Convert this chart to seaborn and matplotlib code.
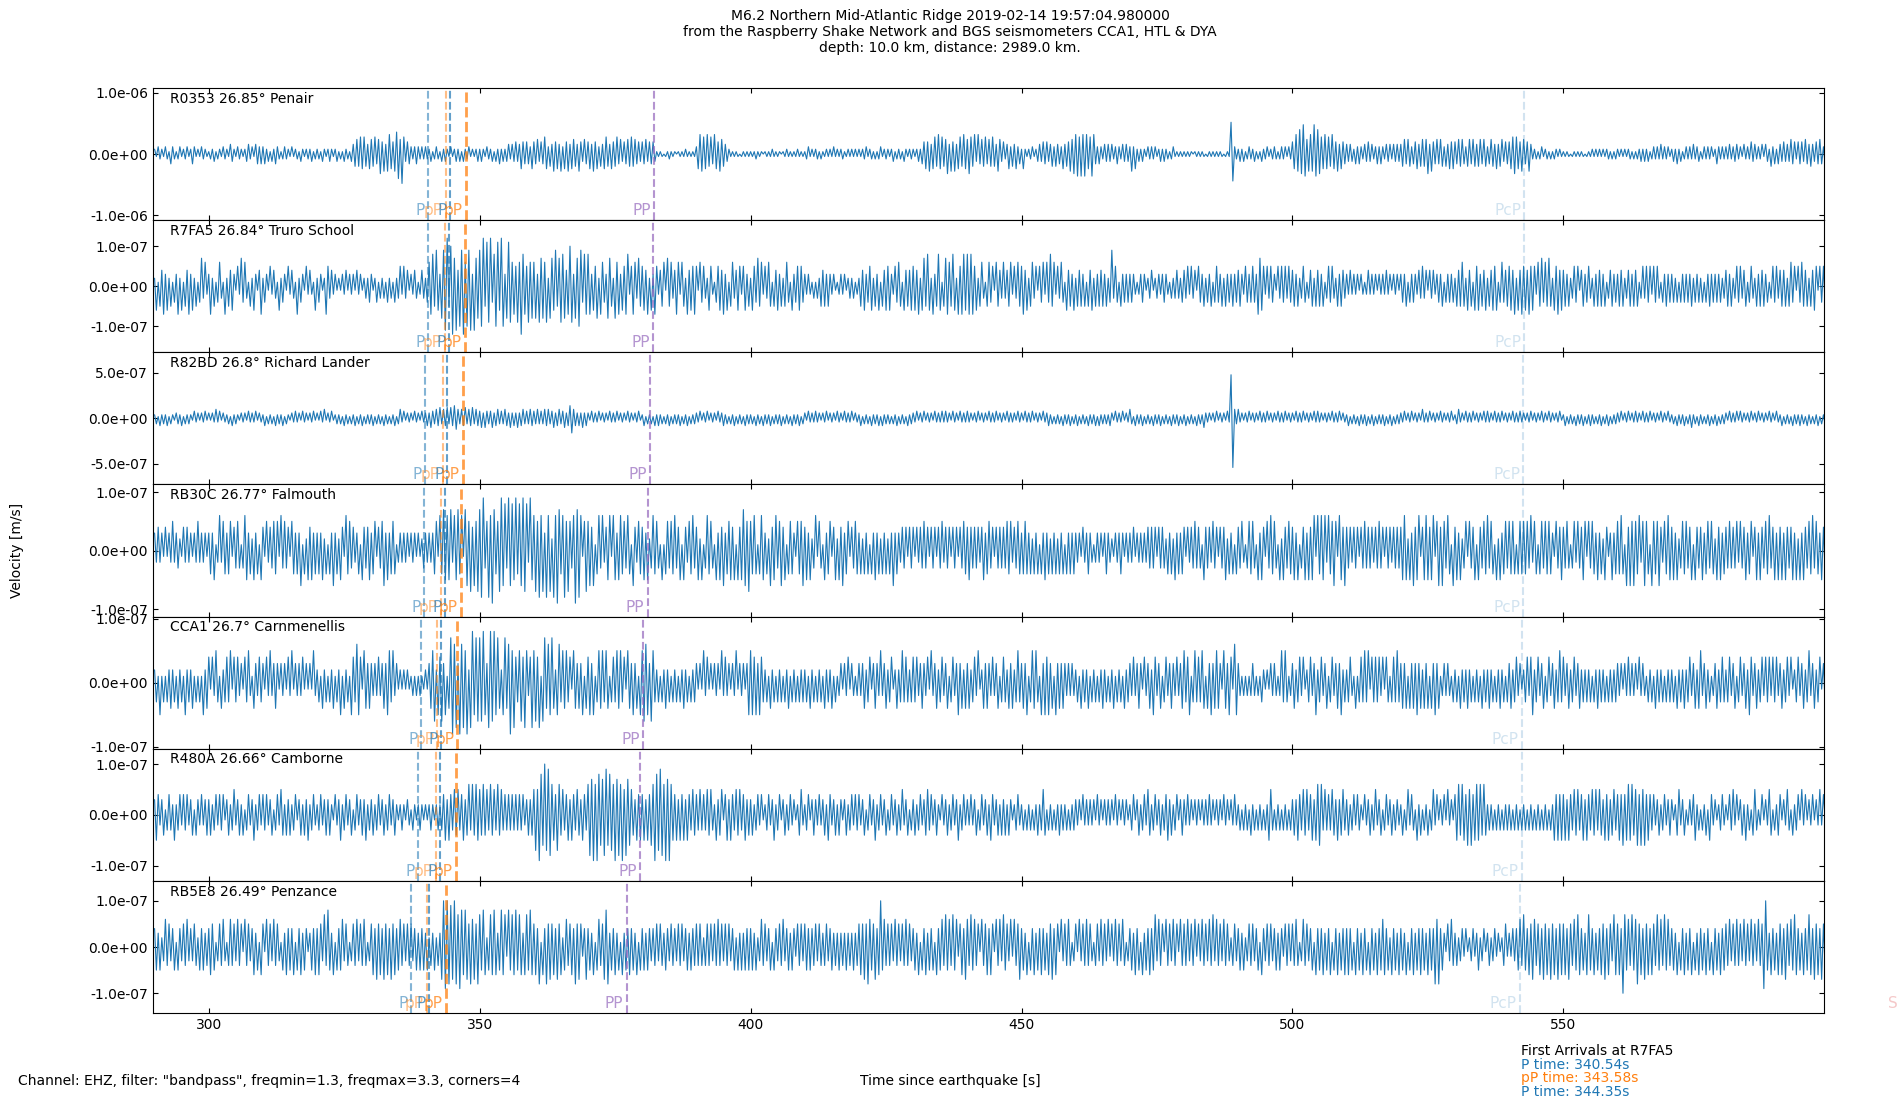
import numpy as np
import pandas as pd
import matplotlib
matplotlib.use("Agg")
import matplotlib.pyplot as plt
import matplotlib.transforms as mtransforms
from matplotlib.ticker import FormatStrFormatter
import seaborn as sns

# --- 1. Values ---

stations = ["R0353", "R7FA5", "R82BD", "RB30C", "CCA1", "R480A", "RB5E8"]
distances = [26.85, 26.84, 26.8, 26.77, 26.7, 26.66, 26.49]
places = ["Penair", "Truro School", "Richard Lander", "Falmouth",
          "Carnmenellis", "Camborne", "Penzance"]

# symmetric y limit and y tick step per panel [m/s]
y_limits = [1.08e-6, 1.65e-7, 7.27e-7, 1.13e-7, 1.03e-7, 1.30e-7, 1.43e-7]
y_steps = [1e-6, 1e-7, 5e-7, 1e-7, 1e-7, 1e-7, 1e-7]
# size of one amplitude step used in the trace strings below [m/s]
amp_units = [0.04e-6, 0.1e-7, 0.02e-6, 0.1e-7, 0.1e-7, 0.1e-7, 0.1e-7]

# Traces: one string per 10 s window (first window starts at 290 s),
# one base-36 character per half cycle peak, sign flips every peak.
trace_R0353 = [
    "213221321432123122312431213221", "122312213221432132212342314434",
    "342313243212322131221321222312", "221321232123121322134565767546",
    "657468574786579a6c735432343232", "322312321323213123231322312123",
    "232132231324232342435346545436", "546354763547564736574665475364",
    "564756354675465574635465756453", "546354531111011211101111211111",
    "368776857486576543211111011111", "111211101111211110112111112111",
    "123121221211212131212211212121", "212231221212312221231222132122",
    "212324565746758675684757467586", "687583846574657547635246354634",
    "262122312343545345354436455768", "897989867984343243434234324343",
    "373623232132323123232212311111", "11111011111101111111110111db32",
    "232312322312132231223212323132", "5687a8c96787c9a876867586574654",
    "434324343243534234343243424343", "456465345645656847546465354656",
    "546564356465456465346546456354", "567876576457422212312212122121",
    "111101111111011121212121221212", "212121221212232323123232423231",
    "232423123232423312323231243232", "324233423142325342324143253424",
    "435343645254536445435464354545",
]
trace_R7FA5 = [
    "261547362514372615473625147362", "372514631725463152746315263147",
    "243152431624315243172431524216", "243127534231213241323142312324",
    "312413231423142352534132431243", "24678596389bc5ac7b4a9c6a9b3b78",
    "9ac5b9c48ab6ca38b967596c875968", "68397869287695798847a9387a9487",
    "873658276438752867365782576375", "564726375245617563476265274657",
    "516453265214564736156346525635", "265475625365154635256416345654",
    "323213132545353231123231232312", "254634562536154656325465164546",
    "564726758627358615776586275786", "878756256315645165436345625365",
    "574625635154626485625364164536", "254535154625354535249354153434",
    "343212343123412332343213234324", "435253415435243514543525343534",
    "453254345437765253543153545354", "453523541345254535135453253543",
    "324232313212423231323242313231", "343514343243534143423435143434",
    "254565264516563546254656146445", "564726475647565265746575265746",
    "453523545145345325354535134534", "354523453545135354525453143534",
    "342414343435243424143534343423", "453523545345145325354534135453",
    "454525645154654525465154564525",
]
trace_R82BD = [
    "231423241321332413232142313241", "313252413223142321323142324132",
    "241323142324132132423142313241", "314251324123231423132413241323",
    "241323142313241352413231423142", "343543546354636476535463546354",
    "453543453453435435343534534354", "435343545345345345347854343534",
    "314232413231423241323142313241", "241323142423132413232413241323",
    "324132413231423423132413231423", "231423142324132324132314232413",
    "314232423132413231423142324132", "241323142324142323132413231423",
    "324132413231423242423142314232", "423132413231423241323142323142",
    "314232413231423423132314232413", "241323142324142323243142324132",
    "531423241323142324132314232413", "24132314232532313241323142or53",
    "523132413231423241323142324132", "314232413231424231323142324132",
    "241323142324132413232413241323", "324132413231523241323142313241",
    "235231423241323142423142324132", "314232423132413231423142313241",
    "241323142324132423132413241323", "324132413242314232413231423142",
    "231423241325231423132413241323", "314232414231324132413231423142",
    "241323142324231423132413241323",
]
trace_RB30C = [
    "324231413252332142423132523231", "343512625434514353136534253415",
    "415243545163534154343614254534", "343524143634254164534234154345",
    "345143563534541232323132313123", "323234516475657265746176574657",
    "789358697457968396859486978295", "675867386728697468575369786157",
    "564614636245616535645364164254", "453523645315145354634515425463",
    "452513645315354634554515457657", "546414653426456356451454315456",
    "453523615315345145254634514354", "342434143534243424363432434143",
    "414243534143414352434143414354", "454343424534534143434354524354",
    "345434243414353424342434143434", "323142343212323134322132343132",
    "324132323243434143432434253434", "414243534315434253414345243414",
    "435213545315354153645315254354", "453513453545616465626456516546",
    "434243414353434243534143424343", "456525364561456545615646536416",
    "453523515345154354635415253453", "545414545453625414535454315345",
    "435313525345515354353425413534", "546416465654625654165456425465",
    "453523545345154345345354254534", "435343525345345145354354634535",
    "453543453525354354635435453543",
]
trace_CCA1 = [
    "231513132423142315232413131524", "414253142343514342314352143243",
    "314252343132314251323241313152", "231423132413251423154365415434",
    "323242343553523121212112121211", "213456254635147867386758278576",
    "768537868574257468574356475247", "564716746574256354534154343514",
    "453513545354134354534154353415", "566536532313242313231324231323",
    "313152413132315242313251323135", "554535432314231323132413231323",
    "231423132314232413123132413212", "323423413432523423412423534323",
    "434234324152342342341342353424", "342342512434324234134324342353",
    "343513545315354534153434323232", "231423241323132423132413231423",
    "324234314234254234134234324234", "534513534354143534543154354165",
    "321212123212132121323212535312", "342342412342352342341342343523",
    "234214134353514343424143134353", "343414343534243414353412323213",
    "231423242313231423242313242313", "342342312342452342341342342353",
    "423423423423232313242323132323", "323132423231423213231423231323",
    "231423242342342452342312342343", "234234134234254234234243424342",
    "342342412342342352342341342342",
]
trace_R480A = [
    "354234134325234243423414324234", "342342434134235234241342352342",
    "434234134254243423413424352342", "234234342142352342341342343523",
    "342342342342342123213213212321", "212321232345354354534534636465",
    "546453645364534343434343423434", "575986a79865476453453543543543",
    "687969867896876978695876543545", "453546698798697965453545354354",
    "435343545325345145354354534534", "342342412342352341342342312452",
    "234134324234254234243134234243", "423413423523423413423423523413",
    "342342345342342142342342352342", "324234134234254234243424312342",
    "231323132423541323132423231323", "323142323231423132323142313231",
    "234134234254234234234534234134", "324231323132324231323142313242",
    "231323142313231325531323132313", "343543545345356663534354353453",
    "342342432142342352341342342332", "241352431524132413524132415231",
    "456465465645656464232313231323", "231323132313231323132313254545",
    "453543545345354354535435453453", "454645656456465645434234234234",
    "312452341232452313241542312342", "214352413425231453124132541324",
    "413253142341524132413252413241",
]
trace_RB5E8 = [
    "453523645345154354634354254534", "465513546314645364516453463516",
    "516453645315364546154635413546", "465374853615456354135463546413",
    "564756475647564564535453453545", "3524352437a9a897a8798687586758",
    "758625768635867285768576367586", "564816485756475625645648575247",
    "453615645788354635163546453615", "453543445354354354435453453544",
    "545424545354645354534525353545", "453523645345154354634535425453",
    "554544535434534534353435343534", "565758655746a56454536453546453",
    "453615463545164564756475625647", "647564516456465164637553626457",
    "453615463546453657465163546413", "516354645314536453625364536413",
    "453645163546457364516453645164", "546354625364536473645364532453",
    "453523545345164354534535425453", "546413645345164546354615463546",
    "464516453645164536456645264536", "453615463546453645486845315364",
    "342342412342352341342342312452", "324345647546576456475647564756",
    "564754657645367546354657465376", "564a75647568564756465475647564",
    "453615463546153645364516453645", "5463546453645364536459a5364536",
    "564754657645364576475647564756",
]
traces = [trace_R0353, trace_R7FA5, trace_R82BD, trace_RB30C,
          trace_CCA1, trace_R480A, trace_RB5E8]

# phase arrival times per panel [s since origin]
p_first = [340.5, 340.54, 339.9, 339.7, 339.1, 338.7, 337.3]
pP_first = [343.7, 343.58, 343.2, 342.9, 342.2, 341.9, 340.2]
p_second = [344.5, 344.35, 343.9, 343.6, 342.9, 342.6, 340.7]
pP_second = [347.4, 347.2, 346.9, 346.6, 345.9, 345.6, 343.7]
PP_times = [382.2, 382.0, 381.4, 381.0, 380.1, 379.6, 377.1]
PcP_times = [542.8, 542.8, 542.6, 542.6, 542.4, 542.3, 542.0]
S_time_RB5E8 = 612.3

x_range = (289.7, 598.1)
x_ticks = [300, 350, 400, 450, 500, 550]

title = ("M6.2 Northern Mid-Atlantic Ridge 2019-02-14 19:57:04.980000\n"
         "from the Raspberry Shake Network and BGS seismometers CCA1, HTL & DYA\n"
         "depth: 10.0 km, distance: 2989.0 km.")
filter_note = 'Channel: EHZ, filter: "bandpass", freqmin=1.3, freqmax=3.3, corners=4'
arrival_lines = [("First Arrivals at R7FA5", "black"),
                 ("P time: 340.54s", "#1f77b4"),
                 ("pP time: 343.58s", "#ff7f0e"),
                 ("P time: 344.35s", "#1f77b4")]


# --- 2. Turn the peak strings into a trace table ---

def decode(groups, unit, t0=290.0, window=10.0):
    t, v = [], []
    n = 0
    for k, g in enumerate(groups):
        for j, c in enumerate(g):
            t.append(t0 + k * window + window * j / len(g))
            v.append((1 if n % 2 == 0 else -1) * int(c, 36) * unit)
            n += 1
    return pd.DataFrame({"t": t, "v": v})


# --- 3. Plot ---

sns.set_style("ticks", {"axes.edgecolor": "black", "xtick.color": "black",
                        "ytick.color": "black", "text.color": "black",
                        "axes.labelcolor": "black",
                        "xtick.direction": "in", "ytick.direction": "in",
                        "xtick.top": True, "ytick.right": True})
plt.rcParams["font.family"] = ["DejaVu Sans"]
plt.rcParams["font.size"] = 10

fig, axes = plt.subplots(len(stations), 1, sharex=True, figsize=(19, 11), dpi=100)
fig.subplots_adjust(left=0.0805, right=0.96, top=0.92, bottom=0.079, hspace=0)

# (label, times, colour, alpha, linewidth)
phases = [
    ("P", p_first, "#1f77b4", 0.55, 1.5),
    ("pP", pP_first, "#ff7f0e", 0.5, 1.5),
    ("P", p_second, "#1f77b4", 0.7, 1.5),
    ("pP", pP_second, "#ff7f0e", 0.75, 2.0),
    ("PP", PP_times, "#9467bd", 0.7, 1.5),
    ("PcP", PcP_times, "#1f77b4", 0.2, 1.5),
]

for i, ax in enumerate(axes):
    df = decode(traces[i], amp_units[i])
    sns.lineplot(data=df, x="t", y="v", ax=ax, color="#1f77b4", linewidth=0.8,
                 estimator=None, sort=False)
    ax.set(xlabel="", ylabel="")
    ax.set_xlim(*x_range)
    ax.set_ylim(-y_limits[i], y_limits[i])
    ax.set_yticks([-y_steps[i], 0, y_steps[i]])
    ax.yaxis.set_major_formatter(FormatStrFormatter("%.1e"))
    ax.set_xticks(x_ticks)
    ax.tick_params(direction="in", top=True, right=True, labelsize=10)

    ax.text(0.01, 0.92, f"{stations[i]} {distances[i]}\u00b0 {places[i]}",
            transform=ax.transAxes, va="center", ha="left", fontsize=10)

    trans = mtransforms.blended_transform_factory(ax.transData, ax.transAxes)
    for name, times, col, alpha, lw in phases:
        ax.axvline(times[i], ls="--", color=col, alpha=alpha, lw=lw)
        ax.text(times[i] - 0.6, 0.015, name, transform=trans, ha="right", va="bottom",
                color=col, alpha=alpha, fontsize=11)

# S arrival only reaches the picture for the last station
ax_last = axes[-1]
ax_last.axvline(S_time_RB5E8, ls="--", color="#d62728", alpha=0.25, lw=1.5)
trans = mtransforms.blended_transform_factory(ax_last.transData, ax_last.transAxes)
ax_last.text(S_time_RB5E8 - 0.6, 0.015, "S", transform=trans, ha="right", va="bottom",
             color="#d62728", alpha=0.25, fontsize=11, clip_on=False)

fig.text(0.5, 0.992, title, ha="center", va="top", fontsize=10)
fig.text(0.009, 0.4995, "Velocity [m/s]", rotation=90, ha="center", va="center", fontsize=10)
fig.text(0.5, 0.0177, "Time since earthquake [s]", ha="center", va="center", fontsize=10)
fig.text(0.0095, 0.0177, filter_note, ha="left", va="center", fontsize=10)

for k, (line, col) in enumerate(arrival_lines):
    fig.text(0.8005, 0.0447 - k * 0.0125, line, color=col, ha="left", va="center", fontsize=10)

fig.savefig("out.png", dpi=100)
